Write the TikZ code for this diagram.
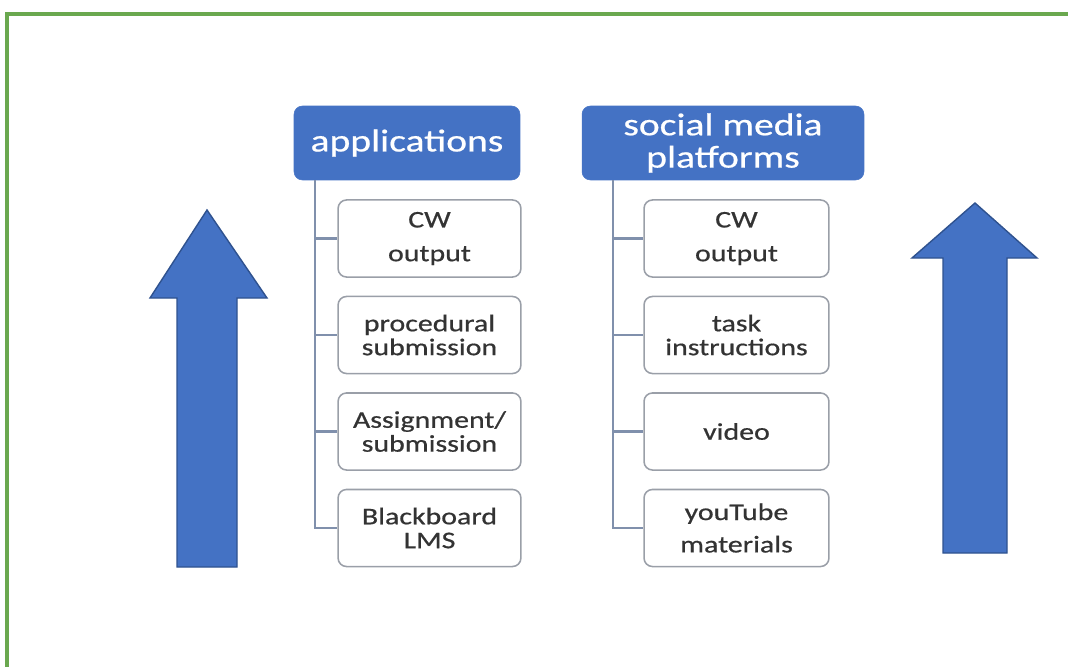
\documentclass[tikz,border=0pt]{standalone}
\usepackage{fontspec}
\setmainfont[FakeStretch=1.25,FakeBold=0.6]{Carlito}
\usepackage{xcolor}
\definecolor{headblue}{HTML}{4472C4}
\definecolor{arrowline}{HTML}{2F528F}
\definecolor{framegreen}{HTML}{6AA84F}
\definecolor{boxgray}{HTML}{9A9FA8}
\definecolor{treegray}{HTML}{8090AC}
\definecolor{textgray}{HTML}{333333}
\usetikzlibrary{calc}
\tikzset{
  head/.style={fill=headblue, draw=headblue, rounded corners=6pt, text=white,
      align=center, inner sep=0pt, font=\fontsize{22.5}{23}\selectfont},
  item/.style={draw=boxgray, line width=1.1pt, rounded corners=6pt, fill=white,
      text=textgray, align=center, inner sep=0pt, minimum height=54.8pt,
      font=\fontsize{17}{17}\selectfont},
  tree/.style={draw=treegray, line width=1.6pt},
  bigarrow/.style={fill=headblue, draw=arrowline, line width=1pt, line join=miter}
}

\begin{document}
\begin{tikzpicture}[x=0.025cm,y=-0.025cm]
      \useasboundingbox (0,0) rectangle (1068,666);
      \clip (0,0) rectangle (1068,666);

      % frame
      \draw[framegreen, line width=2.2pt] (7,14) rectangle (1090,690);

      % headers
      \node[head, minimum width=160.7pt, minimum height=52.6pt] at (407,143) (apps){applications};
      \node[head, minimum width=200.5pt, minimum height=52.6pt] at (723,143) (social){social media\\platforms};

      % left column
      \node[item, minimum width=130pt] at (429.5,238.5) (a1){CW\\[7pt]output};
      \node[item, minimum width=130pt] at (429.5,335) (a2){procedural\\submission};
      \node[item, minimum width=130pt] at (429.5,431.5) (a3){Assignment/\\submission};
      \node[item, minimum width=130pt] at (429.5,528) (a4){Blackboard\\LMS};

      % right column
      \node[item, minimum width=131.5pt] at (736.5,238.5) (s1){CW\\[7pt]output};
      \node[item, minimum width=131.5pt] at (736.5,335) (s2){task\\instructions};
      \node[item, minimum width=131.5pt] at (736.5,431.5) (s3){video};
      \node[item, minimum width=131.5pt] at (736.5,528) (s4){youTube\\[6pt]materials};

      \coordinate (astem) at (315,180);
      \coordinate (sstem) at (613,180);

      \draw[tree] (astem) |- (a4.west);
      \draw[tree] (astem |- a1.west) -- (a1.west);
      \draw[tree] (astem |- a2.west) -- (a2.west);
      \draw[tree] (astem |- a3.west) -- (a3.west);

      \draw[tree] (sstem) |- (s4.west);
      \draw[tree] (sstem |- s1.west) -- (s1.west);
      \draw[tree] (sstem |- s2.west) -- (s2.west);
      \draw[tree] (sstem |- s3.west) -- (s3.west);

      % big arrows
      \filldraw[bigarrow] (177,567) -- (177,298) -- (150,298) -- (207,210)
        -- (267,298) -- (237,298) -- (237,567) -- cycle;
      \filldraw[bigarrow] (943,553) -- (943,258) -- (912,258) -- (975,203)
        -- (1037,258) -- (1007,258) -- (1007,553) -- cycle;

    \end{tikzpicture}
\end{document}
